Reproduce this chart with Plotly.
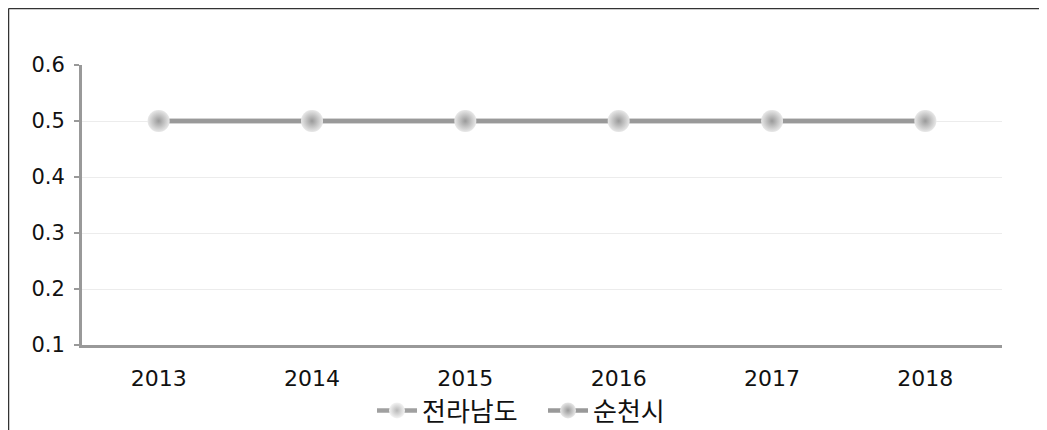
import plotly.graph_objects as go

years = ["2013", "2014", "2015", "2016", "2017", "2018"]
jeonnam = [0.5, 0.5, 0.5, 0.5, 0.5, 0.5]
suncheon = [0.5, 0.5, 0.5, 0.5, 0.5, 0.5]
series_names = ["전라남도", "순천시"]
yticks = [0.1, 0.2, 0.3, 0.4, 0.5, 0.6]

# page body has an 8px margin, so the figure is sized to fit inside the window
W, H = 1039, 422
L, R, T, B = 74, 45, 57, 85
PW, PH = W - L - R, H - T - B

fig = go.Figure()
fig.add_trace(go.Scatter(
    x=years, y=jeonnam, name=series_names[0], mode="lines+markers",
    line=dict(color="#a0a0a0", width=4.5),
    marker=dict(size=22, color="#f4f4f4", line=dict(width=0),
                gradient=dict(type="radial", color="#b8b8b8")),
))
fig.add_trace(go.Scatter(
    x=years, y=suncheon, name=series_names[1], mode="lines+markers",
    line=dict(color="#999999", width=4.5),
    marker=dict(size=22, color="#e8e8e8", line=dict(width=0),
                gradient=dict(type="radial", color="#9a9a9a")),
))

fig.update_layout(
    width=W, height=H,
    margin=dict(l=L, r=R, t=T, b=B, autoexpand=False),
    paper_bgcolor="white", plot_bgcolor="white",
    font=dict(family="DejaVu Sans, Liberation Sans, Noto Sans CJK KR", size=21, color="#111"),
    showlegend=True,
    legend=dict(orientation="h", x=(372 - 8 - L) / PW, xanchor="left", y=-0.15, yanchor="top",
                font=dict(size=26, family="Noto Sans CJK KR, DejaVu Sans"),
                itemwidth=40, entrywidth=116, entrywidthmode="pixels",
                traceorder="normal"),
    xaxis=dict(type="category", range=[-0.5, 5.5], showgrid=False,
               showline=True, linecolor="#999", linewidth=3,
               ticks="", tickfont=dict(size=22), ticklabelstandoff=12),
    yaxis=dict(range=[0.1, 0.6], tickvals=yticks, ticktext=[f"{v:.1f}" for v in yticks],
               showgrid=True, gridcolor="#ececec", gridwidth=1,
               showline=True, linecolor="#999", linewidth=3,
               ticks="outside", ticklen=5, tickwidth=2, tickcolor="#999",
               tickfont=dict(size=21), ticklabelstandoff=5, zeroline=False),
    shapes=[
        dict(type="line", xref="paper", yref="paper",
             x0=(0.5 - L) / PW, x1=(0.5 - L) / PW,
             y0=(H - B - 0.5) / PH, y1=-B / PH,
             line=dict(color="#333", width=1.5)),
        dict(type="line", xref="paper", yref="paper",
             x0=(0.5 - L) / PW, x1=(W - L) / PW,
             y0=(H - B - 0.5) / PH, y1=(H - B - 0.5) / PH,
             line=dict(color="#333", width=1.5)),
    ],
)

fig.write_html("out.html")
